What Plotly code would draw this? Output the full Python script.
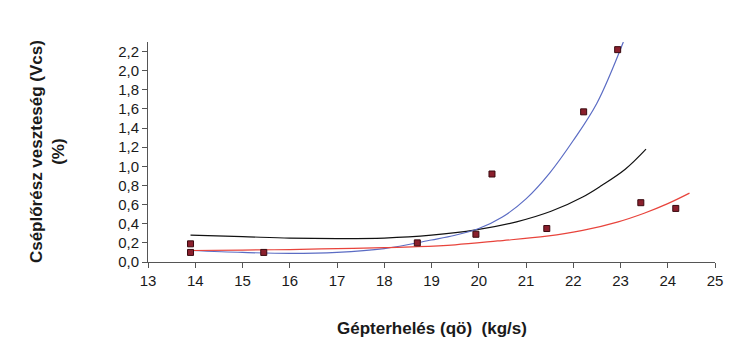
import plotly.graph_objects as go

# measured points
pts_x = [13.9, 13.9, 15.45, 18.7, 19.94, 20.28, 21.44, 22.22, 22.94, 23.43, 24.17]
pts_y = [0.19, 0.10, 0.10, 0.20, 0.29, 0.92, 0.35, 1.57, 2.22, 0.62, 0.56]

# trend lines
black_x = [13.9, 15.0, 16.0, 17.0, 18.0, 19.0, 19.94, 20.8, 21.53, 22.2, 22.6, 23.1, 23.54]
black_y = [0.28, 0.265, 0.25, 0.245, 0.25, 0.28, 0.335, 0.42, 0.53, 0.68, 0.80, 0.97, 1.18]

blue_x = [13.9, 15.0, 16.0, 17.0, 18.0, 19.0, 19.5, 20.0, 20.5, 21.0, 21.5, 22.0, 22.5, 23.06]
blue_y = [0.12, 0.10, 0.09, 0.10, 0.14, 0.23, 0.28, 0.35, 0.47, 0.66, 0.93, 1.27, 1.66, 2.30]

red_x = [13.9, 15.0, 16.0, 17.0, 18.0, 18.7, 19.5, 20.4, 21.44, 22.2, 22.95, 23.5, 24.0, 24.46]
red_y = [0.12, 0.125, 0.13, 0.14, 0.15, 0.16, 0.18, 0.22, 0.27, 0.33, 0.42, 0.51, 0.61, 0.72]

x_ticks = list(range(13, 26))
y_ticks = [round(0.2 * i, 1) for i in range(12)]

fig = go.Figure()
fig.add_trace(go.Scatter(x=black_x, y=black_y, mode="lines", line=dict(color="#111111", width=1.2, shape="spline")))
fig.add_trace(go.Scatter(x=blue_x, y=blue_y, mode="lines", line=dict(color="#5b6cc4", width=1.2, shape="spline")))
fig.add_trace(go.Scatter(x=red_x, y=red_y, mode="lines", line=dict(color="#e8443c", width=1.2, shape="spline")))
fig.add_trace(go.Scatter(x=pts_x, y=pts_y, mode="markers",
                         marker=dict(symbol="square", size=6, color="#8a1f2c",
                                     line=dict(color="#3a0a10", width=1))))

fig.update_layout(
    width=750, height=346,
    margin=dict(l=148, r=35, t=42, b=84),
    paper_bgcolor="white", plot_bgcolor="white",
    showlegend=False,
    separators=",.",
    font=dict(family="Liberation Sans, Arial, sans-serif", color="#1a1a1a"),
)
fig.update_xaxes(range=[13, 25], tickvals=x_ticks, ticks="outside", ticklen=5, tickcolor="#555",
                 showline=True, linecolor="#555", linewidth=1, showgrid=False, zeroline=False,
                 tickfont=dict(size=15, color="#1a1a1a"))
fig.update_yaxes(range=[0, 2.3], tickvals=y_ticks, tickformat=".1f", ticks="outside", ticklen=5,
                 tickcolor="#555", showline=True, linecolor="#555", linewidth=1, showgrid=False,
                 zeroline=False, tickfont=dict(size=15, color="#1a1a1a"))

fig.add_annotation(text="<b>Cséplőrész veszteség (Vcs)</b><br><b>(%)</b>", textangle=-90,
                   xref="paper", yref="paper", x=-0.178, y=0.5, xanchor="center", yanchor="middle",
                   showarrow=False, font=dict(size=17, color="#1a1a1a"))
fig.add_annotation(text="<b>Gépterhelés (qö)  (kg/s)</b>", xref="paper", yref="paper",
                   x=0.5, y=-0.3, xanchor="center", yanchor="middle",
                   showarrow=False, font=dict(size=17, color="#1a1a1a"))

fig.write_html("out.html")
